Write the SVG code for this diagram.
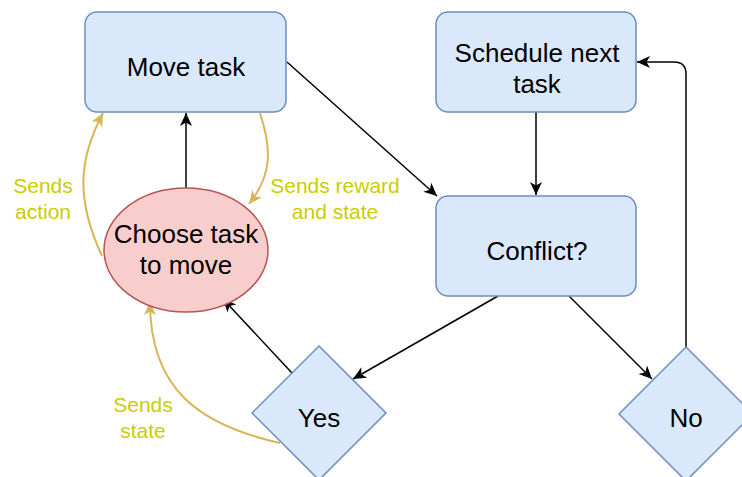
<svg xmlns="http://www.w3.org/2000/svg" width="742" height="477" viewBox="0 0 742 477">
  <style>
    .box { fill: #dae8fc; stroke: #6c8ebf; stroke-width: 1.5; }
    .oval { fill: #f8cecc; stroke: #b85450; stroke-width: 1.5; }
    .txt { font-family: "Liberation Sans", Arial, sans-serif; font-size: 26px; fill: #000; text-anchor: middle; }
    .lbl { font-family: "Liberation Sans", Arial, sans-serif; font-size: 21px; fill: #cccc00; text-anchor: middle; }
    .edge { fill: none; stroke: #000; stroke-width: 1.5; }
    .gold { fill: none; stroke: #d6b656; stroke-width: 2; }
  </style>
  <defs>
    <marker id="arrow" markerUnits="userSpaceOnUse" markerWidth="16" markerHeight="16" viewBox="-15 -8 16 16" refX="0" refY="0" orient="auto">
      <path d="M-13,-6 L0,0 L-13,6 L-9.5,0 Z" fill="#000"/>
    </marker>
    <marker id="arrowGold" markerUnits="userSpaceOnUse" markerWidth="16" markerHeight="16" viewBox="-15 -8 16 16" refX="0" refY="0" orient="auto">
      <path d="M-13,-6 L0,0 L-13,6 L-9.5,0 Z" fill="#d6b656"/>
    </marker>
  </defs>

  <rect width="742" height="477" fill="#ffffff"/>

  <!-- connectors -->
  <g id="connectors">
    <path class="edge" d="M186,188 L186,113" marker-end="url(#arrow)"/>
    <path class="edge" d="M287,62 L437,196" marker-end="url(#arrow)"/>
    <path class="edge" d="M536,112 L536,195" marker-end="url(#arrow)"/>
    <path class="edge" d="M498,296 L353,379" marker-end="url(#arrow)"/>
    <path class="edge" d="M569,296 L652,379" marker-end="url(#arrow)"/>
    <path class="edge" d="M292,373 L223,299" marker-end="url(#arrow)"/>
    <path class="edge" d="M686,347 L686,74 Q686,62 674,62 L637,62" marker-end="url(#arrow)"/>
    <path class="gold" d="M102,256 C76,200 78,160 103,113" marker-end="url(#arrowGold)"/>
    <path class="gold" d="M260,113 C272,150 272,175 249,204" marker-end="url(#arrowGold)"/>
    <path class="gold" d="M280,443 C200,425 150,390 150,302" marker-end="url(#arrowGold)"/>
  </g>

  <!-- connector labels -->
  <g id="labels">
    <text class="lbl" x="43" y="193">Sends</text>
    <text class="lbl" x="43" y="219">action</text>
    <text class="lbl" x="335" y="193">Sends reward</text>
    <text class="lbl" x="335" y="219">and state</text>
    <text class="lbl" x="143" y="412">Sends</text>
    <text class="lbl" x="143" y="438">state</text>
  </g>

  <g id="move-task">
    <rect class="box" x="85" y="12" width="201" height="100" rx="12"/>
    <text class="txt" x="186" y="76">Move task</text>
  </g>

  <g id="schedule-next-task">
    <rect class="box" x="436" y="12" width="200" height="100" rx="12"/>
    <text class="txt" x="537" y="62">Schedule next</text>
    <text class="txt" x="537" y="93">task</text>
  </g>

  <g id="conflict">
    <rect class="box" x="436" y="196" width="200" height="100" rx="12"/>
    <text class="txt" x="537" y="260">Conflict?</text>
  </g>

  <g id="choose-task">
    <ellipse class="oval" cx="186" cy="250" rx="82" ry="62"/>
    <text class="txt" x="186" y="243">Choose task</text>
    <text class="txt" x="186" y="274">to move</text>
  </g>

  <g id="yes">
    <polygon class="box" points="319,346 386,413 319,480 252,413"/>
    <text class="txt" x="319" y="427">Yes</text>
  </g>

  <g id="no">
    <polygon class="box" points="686,347 753,414 686,481 619,414"/>
    <text class="txt" x="686" y="427">No</text>
  </g>
</svg>
